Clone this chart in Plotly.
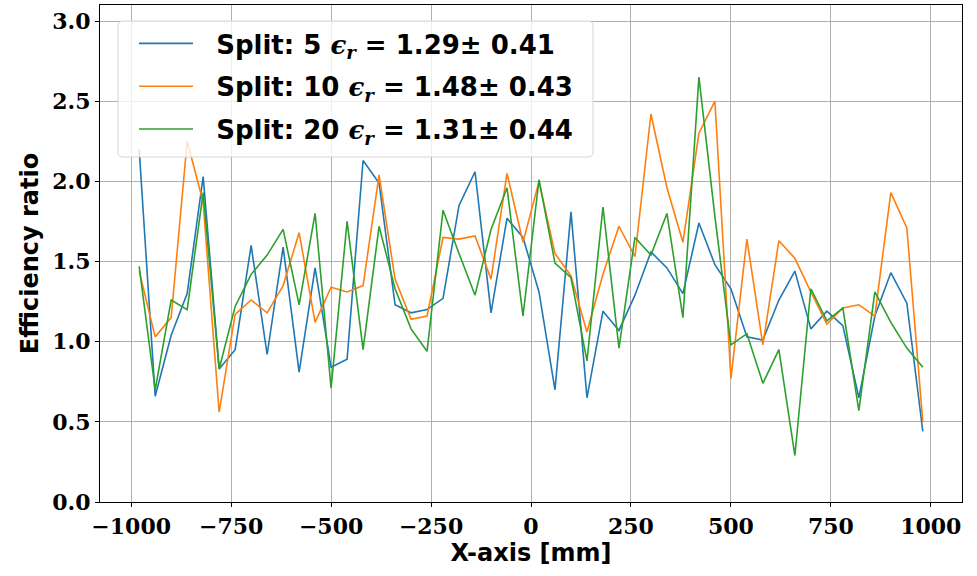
import plotly.graph_objects as go

x_mm = [-980, -940, -900, -860, -820, -780, -740, -700, -660, -620,
        -580, -540, -500, -460, -420, -380, -340, -300, -260, -220,
        -180, -140, -100, -60, -20, 20, 60, 100, 140, 180,
        220, 260, 300, 340, 380, 420, 460, 500, 540, 580,
        620, 660, 700, 740, 780, 820, 860, 900, 940, 980]

split5 = [2.20, 0.66, 1.04, 1.30, 2.03, 0.83, 0.95, 1.60, 0.92, 1.59,
          0.81, 1.46, 0.84, 0.89, 2.13, 1.99, 1.23, 1.18, 1.20, 1.27,
          1.85, 2.06, 1.18, 1.77, 1.65, 1.31, 0.70, 1.81, 0.65, 1.19,
          1.07, 1.29, 1.56, 1.46, 1.30, 1.74, 1.48, 1.33, 1.03, 1.01,
          1.26, 1.44, 1.08, 1.19, 1.10, 0.65, 1.16, 1.43, 1.24, 0.44]

split10 = [1.44, 1.03, 1.15, 2.25, 1.87, 0.56, 1.17, 1.26, 1.18, 1.35,
           1.68, 1.12, 1.34, 1.31, 1.35, 2.04, 1.39, 1.14, 1.16, 1.65,
           1.64, 1.66, 1.39, 2.05, 1.62, 2.00, 1.55, 1.41, 1.06, 1.42,
           1.72, 1.53, 2.42, 1.96, 1.62, 2.30, 2.50, 0.77, 1.64, 0.98,
           1.63, 1.52, 1.31, 1.11, 1.21, 1.23, 1.16, 1.93, 1.71, 0.50]

split20 = [1.47, 0.70, 1.26, 1.20, 1.93, 0.83, 1.22, 1.42, 1.54, 1.70,
           1.23, 1.80, 0.71, 1.75, 0.95, 1.72, 1.33, 1.08, 0.94, 1.82,
           1.55, 1.29, 1.70, 1.96, 1.16, 2.01, 1.49, 1.40, 0.88, 1.84,
           0.96, 1.65, 1.54, 1.80, 1.15, 2.65, 1.78, 0.98, 1.05, 0.74,
           0.95, 0.29, 1.33, 1.13, 1.21, 0.57, 1.31, 1.12, 0.96, 0.84]

split_labels = ["5", "10", "20"]
eff_means = ["1.29", "1.48", "1.31"]
eff_errs = ["0.41", "0.43", "0.44"]
colors = ["#1f77b4", "#ff7f0e", "#2ca02c"]

x_ticks = [-1000, -750, -500, -250, 0, 250, 500, 750, 1000]
y_ticks = [0.0, 0.5, 1.0, 1.5, 2.0, 2.5, 3.0]

W, H = 977, 576
ML, MR, MT, MB = 100, 15, 5, 74
PW, PH = W - ML - MR, H - MT - MB

fig = go.Figure()
for i, ys in enumerate([split5, split10, split20]):
    name = ("<b>\u2002\u2009Split: " + split_labels[i] +
            " <span style='font-family:DejaVu Serif'><i>ϵ</i><sub><i>r</i></sub></span> = "
            + eff_means[i] + "± " + eff_errs[i] + "</b>")
    fig.add_trace(go.Scatter(x=x_mm, y=ys, mode="lines", name=name,
                             legendgroup="g" + str(i),
                             line=dict(color=colors[i], width=1.6)))

axis_common = dict(showline=True, mirror=True, linecolor="black", linewidth=1.2,
                   ticks="outside", ticklen=4, tickwidth=1.2, tickcolor="black",
                   showgrid=True, gridcolor="#b0b0b0", gridwidth=1, zeroline=False,
                   automargin=False,
                   tickfont=dict(family="DejaVu Serif", size=22, color="black", weight="bold"))

fig.update_xaxes(range=[-1078, 1078], tickvals=x_ticks,
                 title=dict(text="<b>X-axis [mm]</b>", font=dict(family="DejaVu Sans", size=24, color="black"),
                            standoff=6),
                 **axis_common)
fig.update_yaxes(range=[0, 3.1], tickvals=y_ticks, tickformat=".1f",
                 title=dict(text="<b>Efficiency ratio</b>", font=dict(family="DejaVu Sans", size=24, color="black"),
                            standoff=6),
                 **axis_common)

# rounded legend frame (pixel box -> paper coords)
bx0, bx1, by0, by1, rad = 118, 593, 21, 157, 5
def px(x):
    return (x - ML) / PW
def py(y):
    return (H - MB - y) / PH
frame = (f"M{px(bx0 + rad)},{py(by0)} L{px(bx1 - rad)},{py(by0)} "
         f"Q{px(bx1)},{py(by0)} {px(bx1)},{py(by0 + rad)} "
         f"L{px(bx1)},{py(by1 - rad)} Q{px(bx1)},{py(by1)} {px(bx1 - rad)},{py(by1)} "
         f"L{px(bx0 + rad)},{py(by1)} Q{px(bx0)},{py(by1)} {px(bx0)},{py(by1 - rad)} "
         f"L{px(bx0)},{py(by0 + rad)} Q{px(bx0)},{py(by0)} {px(bx0 + rad)},{py(by0)} Z")
fig.add_shape(type="path", path=frame, xref="paper", yref="paper", layer="above",
              fillcolor="rgba(255,255,255,0.8)", line=dict(color="#d6d6d6", width=1))

fig.update_layout(
    width=W, height=H,
    margin=dict(l=ML, r=MR, t=MT, b=MB),
    paper_bgcolor="white", plot_bgcolor="white",
    legend=dict(x=px(134), y=py(20), xanchor="left", yanchor="top",
                bgcolor="rgba(0,0,0,0)", borderwidth=0,
                font=dict(family="DejaVu Sans", size=26, color="black"),
                itemwidth=54, tracegroupgap=6),
)

fig.write_html("out.html", config={"displayModeBar": False},
               post_script="document.body.style.margin='0px';")
